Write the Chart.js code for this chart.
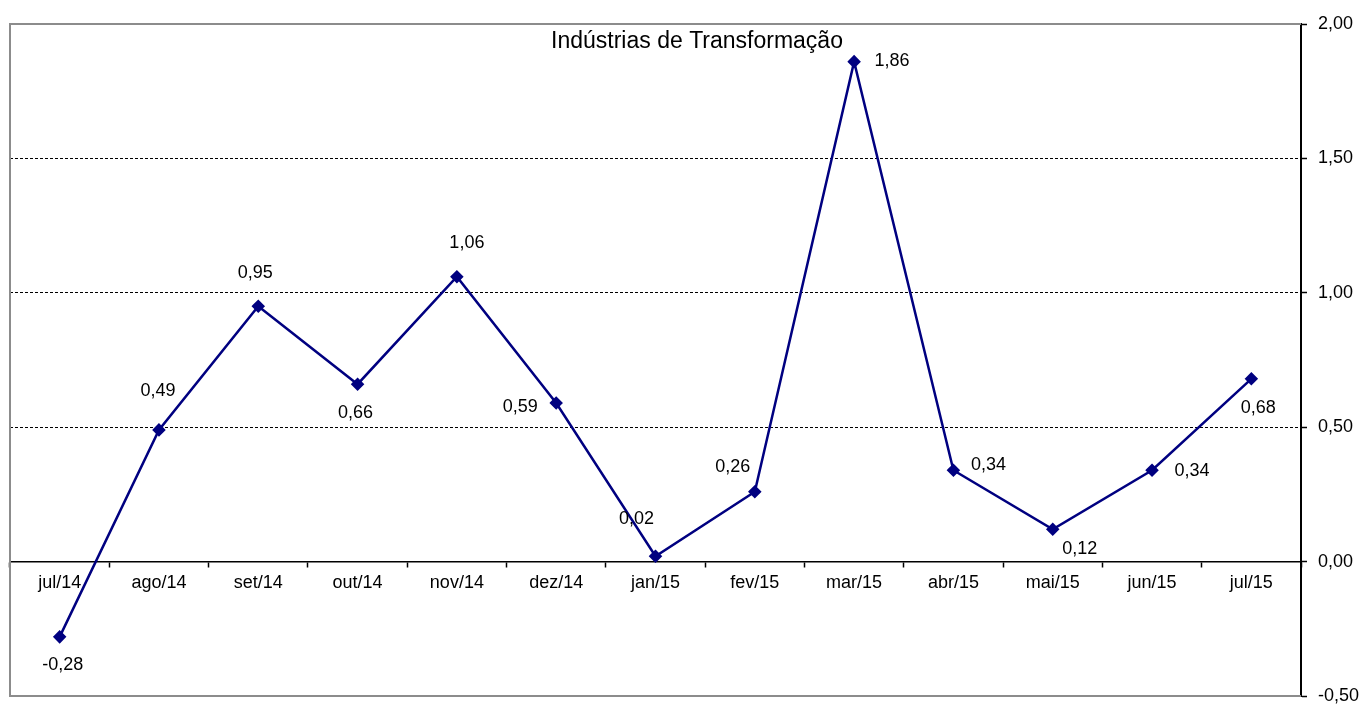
<!DOCTYPE html>
<html>
<head>
<meta charset="utf-8">
<script src="https://cdn.jsdelivr.net/npm/chart.js@4/dist/chart.umd.min.js"></script>
<style>
  html, body { margin: 0; padding: 0; background: #fff; }
  #wrap { width: 1365px; height: 704px; position: relative; }
</style>
</head>
<body>
<div id="wrap"><canvas id="c" width="1365" height="704"></canvas></div>
<script>
// ---- data ----
const chartTitle = 'Indústrias de Transformação';
const categories = ['jul/14','ago/14','set/14','out/14','nov/14','dez/14','jan/15','fev/15','mar/15','abr/15','mai/15','jun/15','jul/15'];
const values = [-0.28, 0.49, 0.95, 0.66, 1.06, 0.59, 0.02, 0.26, 1.86, 0.34, 0.12, 0.34, 0.68];
const yTickMin = -0.5;
const yTickMax = 2.0;
const yTickStep = 0.5;
const dashedGridValues = [0.5, 1.0, 1.5];

// ---- styles (label offsets in px relative to each point) ----
const labelOffsetX = [3, -1, -3, -2, 10, -36, -19, -22, 38, 35, 27, 40, 7];
const labelOffsetY = [28, -39, -33, 29, -34, 4, -37, -25, -1, -5, 20, 1, 29];

const FONT = "'Liberation Sans', Arial, sans-serif";
const fmt = v => v.toFixed(2).replace('.', ',');

const framePlugin = {
  id: 'frame',
  beforeDraw(chart) {
    const {ctx, width, height} = chart;
    ctx.save();
    ctx.fillStyle = '#fff';
    ctx.fillRect(0, 0, width, height);
    ctx.restore();
  },
  afterDraw(chart) {
    const {ctx, chartArea: a} = chart;
    ctx.save();
    ctx.strokeStyle = '#8c8c8c';
    ctx.lineWidth = 2;
    ctx.beginPath();
    ctx.moveTo(a.right, a.top);
    ctx.lineTo(a.left, a.top);
    ctx.lineTo(a.left, a.bottom);
    ctx.lineTo(a.right, a.bottom);
    ctx.stroke();
    // title
    ctx.fillStyle = '#000';
    ctx.font = '23px ' + FONT;
    ctx.textAlign = 'center';
    ctx.textBaseline = 'middle';
    ctx.fillText(chartTitle, 697, 42);
    ctx.restore();
  }
};

const labelPlugin = {
  id: 'pointLabels',
  afterDatasetsDraw(chart) {
    const {ctx} = chart;
    const meta = chart.getDatasetMeta(0);
    ctx.save();
    ctx.fillStyle = '#000';
    ctx.font = '18px ' + FONT;
    ctx.textAlign = 'center';
    ctx.textBaseline = 'middle';
    meta.data.forEach((pt, i) => {
      ctx.fillText(fmt(values[i]), pt.x + labelOffsetX[i], pt.y + labelOffsetY[i]);
    });
    ctx.restore();
  }
};

new Chart(document.getElementById('c'), {
  type: 'line',
  data: {
    labels: categories,
    datasets: [{
      data: values,
      borderColor: '#000080',
      backgroundColor: '#000080',
      borderWidth: 2.5,
      pointStyle: 'rectRot',
      pointRadius: 5,
      pointHoverRadius: 5,
      tension: 0,
      fill: false,
      clip: false
    }]
  },
  options: {
    responsive: false,
    animation: false,
    events: [],
    layout: { padding: { left: 10, top: 24, bottom: 8, right: 0 } },
    plugins: {
      legend: { display: false },
      title: { display: false },
      tooltip: { enabled: false }
    },
    scales: {
      x: {
        type: 'category',
        position: { y: 0 },
        offset: true,
        afterFit(scale) { scale.paddingLeft = 0; scale.paddingRight = 0; },
        grid: {
          offset: true,
          drawOnChartArea: false,
          drawTicks: true,
          tickLength: 5,
          tickColor: '#000',
          tickWidth: 1.5
        },
        border: { display: true, color: '#000', width: 1.5 },
        ticks: {
          color: '#000',
          font: { family: FONT, size: 18 },
          padding: 6,
          maxRotation: 0,
          autoSkip: false
        }
      },
      y: {
        position: 'right',
        min: yTickMin,
        max: yTickMax,
        afterFit(scale) { scale.width = 64; scale.paddingTop = 0; scale.paddingBottom = 0; },
        afterBuildTicks(scale) {
          const t = [];
          for (let v = yTickMin; v <= yTickMax + 1e-9; v += yTickStep) t.push({ value: Math.round(v * 100) / 100 });
          scale.ticks = t;
        },
        grid: {
          drawOnChartArea: true,
          drawTicks: true,
          tickLength: 6,
          tickColor: '#000',
          tickWidth: 1.5,
          lineWidth: 1,
          color: ctx => dashedGridValues.some(v => Math.abs(v - ctx.tick.value) < 1e-6) ? '#000' : 'rgba(0,0,0,0)'
        },
        border: { display: true, color: '#000', width: 2, dash: [3, 2] },
        ticks: {
          color: '#000',
          font: { family: FONT, size: 18 },
          padding: 11,
          callback: v => fmt(v)
        }
      }
    }
  },
  plugins: [framePlugin, labelPlugin]
});
</script>
</body>
</html>
